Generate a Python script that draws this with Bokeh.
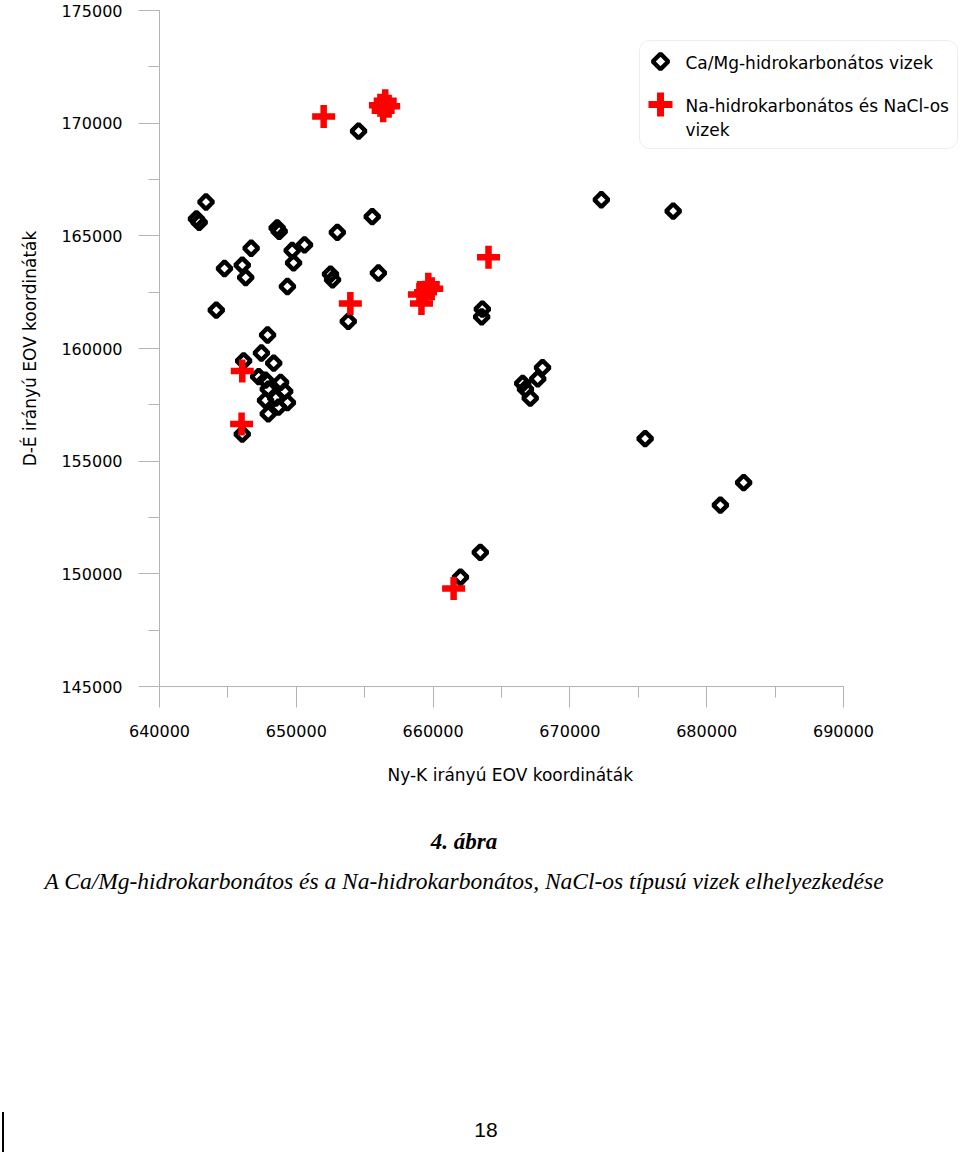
import math
from bokeh.plotting import figure
from bokeh.models import (Range1d, SingleIntervalTicker, BasicTickFormatter,
                          BoxAnnotation, Label, Div, Title)
from bokeh.layouts import column
from bokeh.embed import file_html
from bokeh.resources import INLINE

# ---------------- data ----------------
camg_label = "Ca/Mg-hidrokarbonátos vizek"
camg_x = [643400, 642700, 642900, 646700, 644750, 646050, 646300, 644150, 648600, 648750,
          649700, 650600, 649800, 649350, 653000, 654550, 655550, 652500, 652650, 656000,
          653800, 647900, 647450, 646150, 648350, 647750, 648850, 647950, 648500, 647750,
          649350, 647950, 648700, 646050, 663600, 663550, 663450, 662000, 668000, 667650,
          666550, 667100, 666750, 672300, 677550, 675500, 681000, 682700, 647250, 649150]
camg_y = [166500, 165750, 165600, 164450, 163550, 163700, 163150, 161700, 165350, 165200,
          164350, 164600, 163800, 162750, 165150, 169650, 165850, 163300, 163050, 163350,
          161200, 160600, 159800, 159450, 159350, 158600, 158500, 158200, 157800, 157700,
          157600, 157100, 157400, 156200, 161750, 161400, 150950, 149850, 159150, 158650,
          158450, 157800, 158200, 166600, 166100, 156000, 153050, 154050, 158750, 158100]

na_label_1 = "Na-hidrokarbonátos és NaCl-os"
na_label_2 = "vizek"
na_x = [652000, 656150, 656500, 656750, 656350, 653950, 659650, 659900, 659000, 659150,
        659450, 664050, 646050, 646000, 661500]
na_y = [170300, 170800, 171000, 170750, 170550, 162000, 162850, 162650, 162400, 162000,
        162500, 164050, 159000, 156650, 149350]

x_title = "Ny-K irányú EOV koordináták"
y_title = "D-É irányú EOV koordináták"
fig_no = "4. ábra"
caption = "A Ca/Mg-hidrokarbonátos és a Na-hidrokarbonátos, NaCl-os típusú vizek elhelyezkedése"
page_no = "18"

X0, X1 = 640000, 690000
Y0, Y1 = 145000, 175000

# ---------------- layout ----------------
W = 960
H1 = 820
H2 = 335
FL, FT = 159, 10           # frame left / top
AXW, FH = 684, 676         # pixel length of the x axis (X0..X1) and frame height
FW = W - FL                # frame is widened to the right so the legend fits
XEND = X0 + FW * (X1 - X0) / AXW

SANS = "DejaVu Sans"
GRAY = "#b4b4b4"

def dx(px):
    return X0 + (px - FL) * (X1 - X0) / AXW

def dy(py):
    return Y1 - (py - FT) * (Y1 - Y0) / FH

p = figure(width=W, height=H1, x_range=Range1d(X0, XEND), y_range=Range1d(Y0, Y1),
           output_backend="svg", toolbar_location=None,
           min_border_left=FL, min_border_right=0,
           min_border_top=FT, min_border_bottom=H1 - FT - FH)
p.outline_line_color = None
p.xgrid.visible = False
p.ygrid.visible = False
p.background_fill_color = "white"
p.border_fill_color = "white"

p.xaxis.ticker = SingleIntervalTicker(interval=10000, num_minor_ticks=2)
p.yaxis.ticker = SingleIntervalTicker(interval=5000, num_minor_ticks=2)
p.xaxis.bounds = (X0, X1)
p.yaxis.bounds = (Y0, Y1)
for ax in (p.xaxis[0], p.yaxis[0]):
    ax.formatter = BasicTickFormatter(use_scientific=False)
    ax.axis_line_color = GRAY
    ax.axis_line_width = 1
    ax.major_tick_line_color = GRAY
    ax.minor_tick_line_color = GRAY
    ax.major_tick_in = 0
    ax.major_tick_out = 21
    ax.minor_tick_in = 0
    ax.minor_tick_out = 11
    ax.major_label_text_font = SANS
    ax.major_label_text_font_size = "16px"
    ax.major_label_text_color = "black"
    ax.axis_label_text_font = SANS
    ax.axis_label_text_font_size = "17px"
    ax.axis_label_text_font_style = "normal"
    ax.axis_label_text_color = "black"
p.yaxis.axis_label = y_title
p.xaxis.major_label_standoff = 17
p.yaxis.major_label_standoff = 16
p.yaxis.axis_label_standoff = 18

# x axis title: centred under the axis itself (the frame is wider than the axis)
xt = Title(text=x_title, align="left", offset=387 - FL, standoff=46,
           text_font=SANS, text_font_size="17px", text_font_style="normal",
           text_color="black")
p.add_layout(xt, "below")

# data marks
p.scatter(camg_x, camg_y, marker="square", angle=math.pi / 4, size=10,
          fill_color=None, line_color="black", line_width=4.5)
p.scatter(na_x, na_y, marker="cross", size=23, line_color="#ff0000", line_width=6.5)

# legend (drawn by hand so that the diamond keeps its angle)
box = BoxAnnotation(left=dx(639), right=dx(957), top=dy(40), bottom=dy(148),
                    fill_color="white", fill_alpha=1.0, line_color="#c4c4c4",
                    line_width=1, border_radius=10, level="underlay")
p.add_layout(box)
p.scatter([dx(660)], [dy(61)], marker="square", angle=math.pi / 4, size=11,
          fill_color=None, line_color="black", line_width=4.5)
p.scatter([dx(660)], [dy(104)], marker="cross", size=24, line_color="#ff0000", line_width=7)
for txt, py in ((camg_label, 62), (na_label_1, 105), (na_label_2, 129)):
    p.add_layout(Label(x=dx(685), y=dy(py), text=txt, text_font=SANS,
                       text_font_size="17px", text_baseline="middle", text_align="left",
                       text_color="black"))

# caption area (page y H1 .. H1+H2)
def item(txt, cx, cy, style):
    return ('<div style="position:absolute;left:%dpx;top:%dpx;transform:translate(-50%%,-50%%);'
            'white-space:nowrap;line-height:1;%s">%s</div>' % (cx, cy, style, txt))

html = ('<div style="position:relative;width:%dpx;height:%dpx;color:black;">' % (W, H2)
        + item(fig_no, 464, 841 - H1,
               "font-family:'Liberation Serif';font-size:23px;font-weight:bold;font-style:italic;")
        + item(caption, 464, 882 - H1,
               "font-family:'Liberation Serif';font-size:23.5px;font-style:italic;")
        + item(page_no, 486, 1129 - H1,
               "font-family:'Liberation Sans';font-size:21px;")
        + '<div style="position:absolute;left:2px;top:%dpx;width:1.5px;height:%dpx;background:black;"></div>'
        % (1112 - H1, 40)
        + '</div>')
caption_div = Div(text=html, width=W, height=H2, margin=0)

layout = column(p, caption_div, spacing=0)
open("out.html", "w").write(file_html(layout, INLINE))
